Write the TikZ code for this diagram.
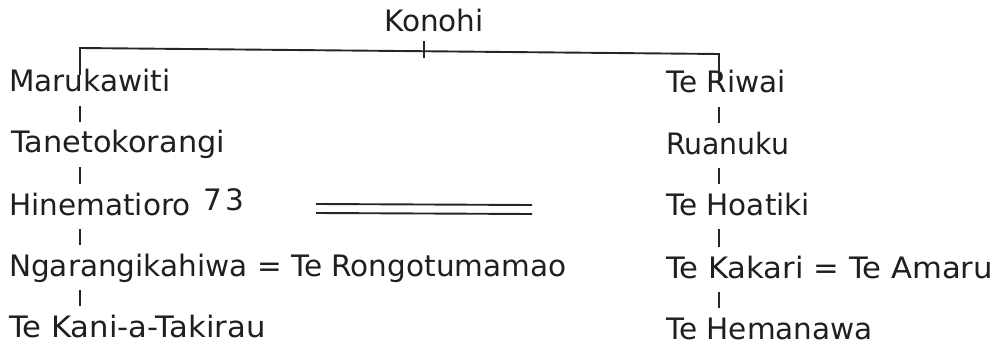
\documentclass[tikz,border=0pt]{standalone}
\usepackage{fontspec}
\setmainfont{DejaVu Sans}
\usetikzlibrary{calc}
\begin{document}
\begin{tikzpicture}[x=1pt,y=-1pt,
  person/.style={anchor=base west,inner sep=0pt,text height=21pt,text depth=7pt,
    font=\fontsize{29.5}{34}\selectfont,text=black!88},
  tick/.style={line width=2pt,black!85},
  bar/.style={line width=1.9pt,black!85}]
\useasboundingbox (0,0) rectangle (998,350);
\coordinate (lx) at (80,0);
\coordinate (rx) at (719,0);
\coordinate (barL) at (80,48);
\coordinate (barR) at (719,54);
\coordinate (top) at (424,51);
\node[person,anchor=base] (kon) at (434,32) {Konohi};
% left line
\node[person] (mar) at (9,92) {Marukawiti};
\node[person] (tan) at (11,153) {\scalebox{1.03}[1]{Tanetokorangi}};
\node[person] (hin) at (9,215) {Hinematioro};
\node[person] (n73) at (203,210) {7\kern4pt3};
\node[person] (nga) at (9,276) {Ngarangikahiwa = Te Rongotumamao};
\node[person] (kan) at (9,337) {\scalebox{1.04}[1]{Te Kani-a-Takirau}};
% right line
\node[person] (riw) at (666,93) {Te Riwai};
\node[person] (rua) at (666,154) {\scalebox{0.96}[1]{Ruanuku}};
\node[person] (hoa) at (666,215) {Te Hoatiki};
\node[person] (kak) at (666,278) {\scalebox{1.04}[1]{Te Kakari = Te Amaru}};
\node[person] (hem) at (666,339) {Te Hemanawa};
% top bracket
\draw[bar] ($(mar.north -| lx)+(0,4)$) -- (barL) -- (barR) -- ($(riw.north -| rx)+(0,13)$);
\draw[tick] ($(kon.south -| top)+(0,2)$) -- ($(top)+(0,7)$);
% descent ticks
\foreach \a/\b in {mar/tan,tan/hin,hin/nga,nga/kan}
  \draw[tick] ($(\a.south -| lx)+(0,7)$) -- ($(\b.north -| lx)+(0,-10)$);
\foreach \a/\b in {riw/rua,rua/hoa,hoa/kak,kak/hem}
  \draw[tick] ($(\a.south -| rx)+(0,7)$) -- ($(\b.north -| rx)+(0,-10)$);
% double line
\coordinate (d1) at (316,204);
\coordinate (d2) at (532,205);
\draw[bar] (d1) -- (d2);
\draw[bar] ($(d1)+(0,9)$) -- ($(d2)+(0,9)$);
\end{tikzpicture}
\end{document}
